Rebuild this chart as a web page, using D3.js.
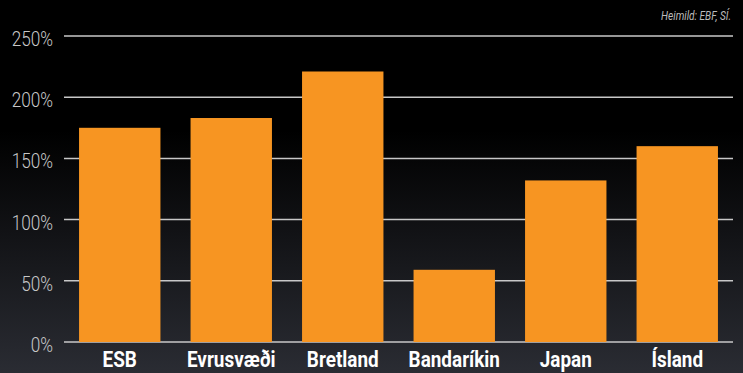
<!DOCTYPE html>
<html><head><meta charset="utf-8">
<script src="https://cdn.jsdelivr.net/npm/d3@7"></script>
<style>html,body{margin:0;padding:0;background:#000;}svg{display:block;}</style>
</head><body>
<svg id="c" width="743" height="373"></svg>
<script>
const categories = ["ESB","Evrusvæði","Bretland","Bandaríkin","Japan","Ísland"];
const values = [175, 183, 221, 59, 132, 160];
const tickValues = [0, 50, 100, 150, 200, 250];
const tickLabels = ["0%","50%","100%","150%","200%","250%"];
const sourceText = "Heimild: EBF, SÍ.";

const W = 743, H = 373;
const svg = d3.select("#c");
const defs = svg.append("defs");
const g = defs.append("linearGradient").attr("id","bg").attr("x1",0).attr("y1",0).attr("x2",0).attr("y2",1);
g.append("stop").attr("offset","0%").attr("stop-color","#000000");
g.append("stop").attr("offset","35%").attr("stop-color","#000000");
g.append("stop").attr("offset","100%").attr("stop-color","#2a2c33");
svg.append("rect").attr("width",W).attr("height",H).attr("fill","url(#bg)");

const x = d3.scaleBand().domain(categories).range([64, 733]).paddingInner(0.27).paddingOuter(0.135);
const y = d3.scaleLinear().domain([0, 250]).range([342, 36]);

const font = "Roboto,'Liberation Sans',sans-serif";

// gridlines
svg.append("g").selectAll("line").data(tickValues).join("line")
  .attr("x1", 64).attr("x2", 733)
  .attr("y1", d => y(d)).attr("y2", d => y(d))
  .attr("stroke", "#c8c8c8").attr("stroke-width", 1.5);

// y tick labels
svg.append("g").selectAll("text").data(tickValues).join("text")
  .attr("transform", d => `translate(53,${y(d) + 10}) scale(0.82,1)`)
  .attr("text-anchor", "end")
  .attr("fill", "#c8c8c8")
  .style("font-family", font).style("font-size", "21px").style("font-weight", "300")
  .text((d,i) => tickLabels[i]);

// bars
svg.append("g").selectAll("rect").data(values).join("rect")
  .attr("x", (d,i) => x(categories[i]))
  .attr("width", x.bandwidth())
  .attr("y", d => y(d))
  .attr("height", d => y(0) - y(d))
  .attr("fill", "#f79522");

// category labels
svg.append("g").selectAll("text").data(categories).join("text")
  .attr("transform", d => `translate(${x(d) + x.bandwidth()/2},367) scale(0.86,1)`)
  .attr("text-anchor", "middle")
  .attr("fill", "#ffffff")
  .style("font-family", font).style("font-size", "22px").style("font-weight", "bold")
  .text(d => d);

// source
svg.append("text").attr("transform", "translate(731,20) scale(0.78,1)").attr("text-anchor","end")
  .attr("fill","#bbbbbb").style("font-family", font).style("font-size","13px").style("font-style","italic")
  .text(sourceText);
</script>
</body></html>
